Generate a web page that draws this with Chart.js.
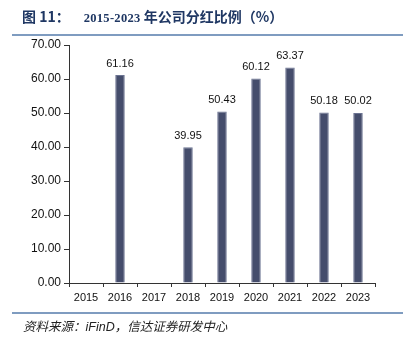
<!DOCTYPE html>
<html>
<head>
<meta charset="utf-8">
<script src="https://cdn.jsdelivr.net/npm/chart.js@4"></script>
<style>
  body { margin: 0; background: #fff; }
  #wrap { position: relative; width: 411px; height: 343px; }
  #title { position: absolute; left: 22px; top: 6px; font: bold 14px "Noto Sans CJK SC"; color: #1f3763; white-space: nowrap; }
  #title .num { font: bold 12.5px "Liberation Serif"; margin-left: 14px; letter-spacing: 0.3px; }
  .rule { position: absolute; left: 12px; width: 391px; height: 2px; background: #7f9cc0; }
  #source { position: absolute; left: 23px; top: 316px; font: italic 12.5px "Noto Sans CJK SC"; color: #222; white-space: nowrap; }
  #source .lat { font: italic 12.5px "Liberation Sans"; }
  canvas { position: absolute; left: 0; top: 0; }
</style>
</head>
<body>
<div id="wrap">
  <canvas id="divChart" width="411" height="343"></canvas>
  <div id="title">图 11：<span class="num">2015-2023</span> 年公司分红比例（%）</div>
  <div class="rule" style="top:34px"></div>
  <div class="rule" style="top:312px"></div>
  <div id="source">资料来源：<span class="lat">iFinD</span>，信达证券研发中心</div>
</div>
<script>
// Data
const years = ['2015', '2016', '2017', '2018', '2019', '2020', '2021', '2022', '2023'];
const payoutRatio = [null, 61.16, null, 39.95, 50.43, 60.12, 63.37, 50.18, 50.02];
const yTicks = [0, 10, 20, 30, 40, 50, 60, 70];

// Draw the value above each bar
const barLabels = {
  id: 'barLabels',
  afterDatasetsDraw(chart) {
    const ctx = chart.ctx;
    const meta = chart.getDatasetMeta(0);
    ctx.save();
    ctx.font = '11px "Liberation Sans"';
    ctx.fillStyle = '#111';
    ctx.textAlign = 'center';
    ctx.textBaseline = 'bottom';
    meta.data.forEach((bar, i) => {
      const v = payoutRatio[i];
      if (v === null) return;
      ctx.fillText(v.toFixed(2), bar.x, bar.y - 6);
    });
    ctx.restore();
  }
};

new Chart(document.getElementById('divChart'), {
  type: 'bar',
  data: {
    labels: years,
    datasets: [{
      data: payoutRatio,
      backgroundColor: '#454d6c',
      borderColor: '#6b7392',
      borderWidth: 1,
      categoryPercentage: 1,
      barPercentage: 0.28
    }]
  },
  options: {
    responsive: false,
    animation: false,
    layout: { padding: { top: 45, right: 36, left: 0, bottom: 0 } },
    plugins: { legend: { display: false }, tooltip: { enabled: false } },
    scales: {
      x: {
        afterFit(scale) { scale.height = 60; },
        grid: { offset: true, drawOnChartArea: false, drawTicks: true, tickLength: 4, color: '#333' },
        border: { display: true, color: '#333', width: 1 },
        ticks: { color: '#111', font: { family: 'Liberation Sans', size: 11 }, padding: 4, maxRotation: 0 }
      },
      y: {
        min: 0,
        max: 70,
        afterFit(scale) { scale.width = 69; },
        afterBuildTicks(scale) { scale.ticks = yTicks.map(v => ({ value: v })); },
        grid: { drawOnChartArea: false, drawTicks: true, tickLength: 5, color: '#333' },
        border: { display: true, color: '#333', width: 1 },
        ticks: {
          color: '#111',
          font: { family: 'Liberation Sans', size: 12 },
          padding: 3,
          callback: v => v.toFixed(2)
        }
      }
    }
  },
  plugins: [barLabels]
});
</script>
</body>
</html>
